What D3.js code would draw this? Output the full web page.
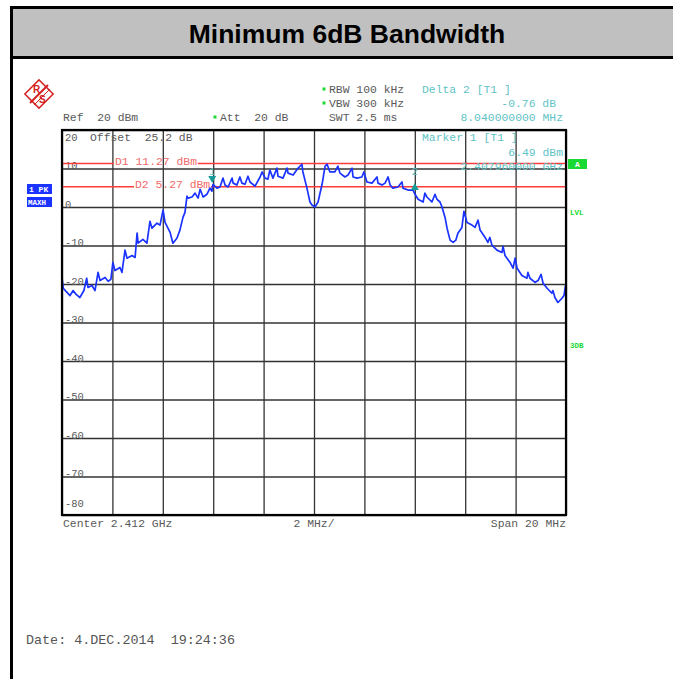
<!DOCTYPE html>
<html>
<head>
<meta charset="utf-8">
<script src="https://cdn.jsdelivr.net/npm/d3@7"></script>
<style>
  body { margin: 0; background: #fff; }
  text { font-family: "Liberation Mono", "DejaVu Sans Mono", monospace; white-space: pre; }
</style>
</head>
<body>
<svg id="chart" width="673" height="679"></svg>
<script>
"use strict";

// trace (offset from centre in MHz, level in dBm)
var freqOffsetMHz = [-10.0, -9.95, -9.84, -9.68, -9.56, -9.44, -9.29, -9.13, -9.02, -8.97, -8.81, -8.69, -8.57, -8.49,
  -8.29, -8.17, -8.06, -7.98, -7.90, -7.70, -7.62, -7.50, -7.42, -7.22, -7.10, -7.02, -6.98, -6.79, -6.63, -6.51,
  -6.43, -6.23, -6.11, -5.99, -5.91, -5.71, -5.60, -5.44, -5.32, -5.20, -5.12, -5.04, -5.00, -4.84, -4.72, -4.60,
  -4.52, -4.40, -4.25, -4.13, -4.05, -4.01, -3.85, -3.73, -3.61, -3.53, -3.41, -3.25, -3.21, -3.06, -2.94, -2.86,
  -2.74, -2.62, -2.54, -2.34, -2.14, -2.06, -1.94, -1.83, -1.75, -1.63, -1.47, -1.43, -1.23, -1.07, -1.03, -0.83,
  -0.63, -0.48, -0.44, -0.28, -0.16, -0.08, 0.04, 0.16, 0.32, 0.44, 0.52, 0.63, 0.83, 0.95, 1.03, 1.23, 1.35, 1.51,
  1.55, 1.71, 1.90, 1.98, 2.10, 2.30, 2.50, 2.54, 2.70, 2.82, 2.94, 3.02, 3.13, 3.33, 3.49, 3.53, 3.73, 3.93, 4.01,
  4.13, 4.33, 4.40, 4.48, 4.68, 4.80, 4.88, 5.00, 5.08, 5.20, 5.28, 5.40, 5.52, 5.63, 5.71, 5.87, 5.95, 6.07, 6.27,
  6.39, 6.51, 6.59, 6.79, 6.90, 6.98, 7.06, 7.26, 7.46, 7.50, 7.58, 7.78, 7.90, 7.98, 8.06, 8.25, 8.45, 8.49, 8.57,
  8.77, 8.89, 9.01, 9.09, 9.25, 9.44, 9.48, 9.56, 9.68, 9.84, 9.92, 9.98];
var levelDbm = [-18.3, -21.1, -21.9, -23.0, -21.7, -22.7, -23.5, -21.7, -18.5, -20.9, -20.4, -21.7, -17.0, -19.1,
  -18.3, -19.3, -18.8, -14.4, -16.5, -15.7, -17.0, -11.2, -13.3, -12.6, -13.1, -6.8, -9.4, -8.4, -9.4, -3.7,
  -5.5, -4.2, -4.7, -0.8, -4.0, -6.6, -9.4, -8.1, -6.0, -2.7, -1.4, 2.8, 2.3, 2.6, 3.6, 2.3,
  4.6, 2.6, 3.3, 4.9, 4.1, 5.9, 4.9, 5.2, 7.5, 5.7, 5.2, 7.5, 6.2, 5.7, 7.8, 6.2,
  5.9, 8.0, 6.5, 5.4, 7.8, 9.1, 7.5, 7.2, 9.6, 7.5, 10.1, 8.0, 7.5, 10.1, 8.8, 8.3,
  10.1, 11.1, 9.1, 4.9, 1.3, 0.5, 0.0, 1.3, 5.9, 10.6, 11.1, 9.1, 9.1, 10.6, 8.8, 7.8, 8.3, 10.1,
  7.8, 7.5, 7.8, 9.1, 6.5, 6.2, 7.8, 6.2, 5.7, 6.2, 7.8, 5.7, 4.9, 5.2, 6.5, 4.9, 4.4, 4.4, 3.3,
  2.0, 1.3, 3.6, 2.6, 1.3, 3.3, 2.0, 1.3, 0.0, -2.7, -5.5, -8.6, -9.2, -8.6, -6.8, -5.3, -1.1, -4.0, -4.7,
  -5.3, -3.4, -6.0, -7.9, -9.2, -7.9, -9.9, -11.2, -11.8, -10.2, -12.6, -14.4, -15.9, -13.3, -15.9, -17.8, -18.5, -17.0, -18.5,
  -19.6, -19.1, -17.5, -19.8, -21.1, -22.4, -21.7, -23.5, -24.8, -23.7, -23.0, -20.4];

var yTicks = [20, 10, 0, -10, -20, -30, -40, -50, -60, -70, -80];
var xTicks = [-10, -8, -6, -4, -2, 0, 2, 4, 6, 8, 10];
var displayLineNames = ["D1", "D2"];
var displayLineLevels = [11.27, 5.27];
var markerNames = ["1", "2"];
var markerFreqs = [-4.04, 4.0];     // marker 1 at 2.40796 GHz, delta 2 at +8.04 MHz
var markerLevels = [6.49, 5.73];    // 6.49 dBm and 6.49 - 0.76 dB

var svg = d3.select("#chart");
var grey = "#5a5a5a", teal = "#5fc3c6", red = "#ff3b3b", pink = "#f06a6a", green = "#19d933", blue = "#1a33ff";

var x = d3.scaleLinear().domain([-10, 10]).range([62, 566]);
var y = d3.scaleLinear().domain([-80, 20]).range([515, 130]);

// page frame and title bar
svg.append("rect").attr("x", 13).attr("y", 9).attr("width", 660).attr("height", 48).style("fill", "#c0c0c0");
svg.append("rect").attr("x", 10).attr("y", 6).attr("width", 663).attr("height", 3).style("fill", "#000");
svg.append("rect").attr("x", 13).attr("y", 56).attr("width", 660).attr("height", 3).style("fill", "#000");
svg.append("rect").attr("x", 10).attr("y", 6).attr("width", 3).attr("height", 673).style("fill", "#000");
svg.append("text")
  .attr("x", 347).attr("y", 43)
  .attr("text-anchor", "middle")
  .style("font-family", "'Liberation Sans', Arial, sans-serif")
  .style("font-weight", "bold").style("font-size", "26.5px")
  .text("Minimum 6dB Bandwidth");

// R&S logo, rough
var logo = svg.append("g").attr("transform", "translate(39,94)");
logo.append("rect").attr("x", -10).attr("y", -10).attr("width", 20).attr("height", 20)
  .attr("transform", "rotate(45)")
  .style("fill", "#fff").style("stroke", "#d42020").style("stroke-width", 1.5);
logo.append("line").attr("x1", -9).attr("y1", 9).attr("x2", 9).attr("y2", -9)
  .style("stroke", "#d42020").style("stroke-width", 2);
logo.append("line").attr("x1", -5).attr("y1", 11).attr("x2", 11).attr("y2", -5)
  .style("stroke", "#d42020").style("stroke-width", 1);
logo.append("text").attr("x", -6).attr("y", -1).text("R")
  .style("font-family", "'Liberation Sans', sans-serif").style("font-weight", "bold")
  .style("font-size", "10px").style("fill", "#d42020");
logo.append("text").attr("x", 0).attr("y", 9).text("S")
  .style("font-family", "'Liberation Sans', sans-serif").style("font-weight", "bold")
  .style("font-size", "10px").style("fill", "#d42020");

function label(tx, ty, str, col, anchor, size) {
  return svg.append("text")
    .attr("x", tx).attr("y", ty)
    .attr("text-anchor", anchor || "start")
    .style("font-size", (size || 11.4) + "px")
    .style("fill", col || grey)
    .text(str);
}
function star(sx, sy) {
  svg.append("rect").attr("x", sx - 1.5).attr("y", sy - 1.5).attr("width", 3).attr("height", 3).style("fill", green);
}

// header settings
star(324, 89); label(329, 93, "RBW 100 kHz");
star(324, 103); label(329, 107, "VBW 300 kHz");
label(329, 121, "SWT 2.5 ms");
label(63, 121, "Ref  20 dBm");
star(215, 117); label(220, 121, "Att  20 dB");
label(422, 93, "Delta 2 [T1 ]", teal);
label(556, 107, "-0.76 dB", teal, "end");
label(563, 121, "8.040000000 MHz", teal, "end");

// grid via axes
var gx = svg.append("g").attr("transform", "translate(0,515)")
  .call(d3.axisBottom(x).tickValues(xTicks).tickSize(-385).tickFormat(""));
var gy = svg.append("g").attr("transform", "translate(62,0)")
  .call(d3.axisLeft(y).tickValues(yTicks).tickSize(-504).tickFormat(""));
[gx, gy].forEach(function (g) {
  g.select(".domain").remove();
  g.selectAll(".tick line").style("stroke", "#333").style("stroke-width", 1.3);
});

// y labels sit inside the grid, just above their line
svg.append("g").selectAll("text").data(yTicks).enter().append("text")
  .attr("x", 65)
  .attr("y", function (d) { return d === 20 ? y(d) + 11 : d === -80 ? y(d) - 8 : y(d) + 0.5; })
  .style("font-size", "10.5px").style("fill", grey)
  .text(function (d) { return d; });
label(90, 141, "Offset  25.2 dB");

// display lines D1 / D2 with their labels breaking the line
var dlStart = [115, 135];
displayLineNames.forEach(function (n, i) {
  var ly = y(displayLineLevels[i]);
  var txt = n + " " + displayLineLevels[i].toFixed(2) + " dBm";
  var tEnd = dlStart[i] + txt.length * 6.9;
  svg.append("line").attr("x1", 62).attr("x2", dlStart[i] - 1).attr("y1", ly).attr("y2", ly)
    .style("stroke", red).style("stroke-width", 1.5);
  svg.append("line").attr("x1", tEnd).attr("x2", 566).attr("y1", ly).attr("y2", ly)
    .style("stroke", red).style("stroke-width", 1.5);
  label(dlStart[i], ly + 1, txt, pink);
});

// marker readout
label(422, 141, "Marker 1 [T1 ]", teal);
label(563, 156, "6.49 dBm", teal, "end");
label(563, 170, "2.407960000 GHz", teal, "end");

// trace
var trace = freqOffsetMHz.map(function (f, i) { return [f, levelDbm[i]]; });
svg.append("path")
  .datum(trace)
  .attr("d", d3.line().x(function (d) { return x(d[0]); }).y(function (d) { return y(d[1]); }))
  .style("fill", "none").style("stroke", blue).style("stroke-width", 1.7)
  .style("stroke-linejoin", "round");

// markers
markerNames.forEach(function (n, i) {
  var mx = x(markerFreqs[i]), my = y(markerLevels[i]);
  var pts = i === 0
    ? [[mx - 4, my - 6], [mx + 4, my - 6], [mx, my + 1]]
    : [[mx - 4, my + 5], [mx + 4, my + 5], [mx, my - 2]];
  svg.append("polygon").attr("points", pts.join(" ")).style("fill", "#179c98");
  label(mx, 175, n, teal, "middle", 10);
});

// frame
svg.append("rect").attr("x", 62).attr("y", 130).attr("width", 504).attr("height", 385)
  .style("fill", "none").style("stroke", "#000").style("stroke-width", 2.2);

// side annotations
svg.append("rect").attr("x", 27).attr("y", 184).attr("width", 25).attr("height", 10).style("fill", blue);
svg.append("rect").attr("x", 27).attr("y", 197).attr("width", 25).attr("height", 10).style("fill", blue);
label(29, 192, "1 PK", "#fff", "start", 8).style("font-weight", "bold");
label(28, 205, "MAXH", "#fff", "start", 7.5).style("font-weight", "bold");
svg.append("rect").attr("x", 568).attr("y", 159).attr("width", 19).attr("height", 10).style("fill", green);
label(577.5, 167, "A", "#fff", "middle", 8).style("font-weight", "bold");
label(570, 215, "LVL", green, "start", 7.5).style("font-weight", "bold");
label(570, 348, "3DB", green, "start", 7.5).style("font-weight", "bold");

// footer
label(63, 527, "Center 2.412 GHz");
label(314, 527, "2 MHz/", grey, "middle");
label(566, 527, "Span 20 MHz", grey, "end");
label(26, 644, "Date: 4.DEC.2014  19:24:36", "#555", "start", 13.4);
</script>
</body>
</html>
